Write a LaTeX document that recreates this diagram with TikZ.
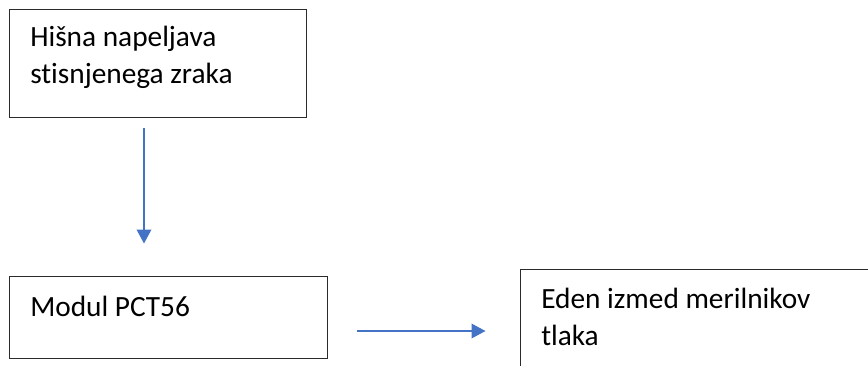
\documentclass[tikz,border=0pt]{standalone}
\usepackage{fontspec}
\setmainfont[Ligatures=NoCommon]{Carlito}
\usetikzlibrary{arrows.meta}
\definecolor{flowblue}{HTML}{4472C4}
\definecolor{boxline}{HTML}{2B2B2B}
\begin{document}
\begin{tikzpicture}[x=0.75pt,y=-0.75pt,
  box/.style={draw=boxline,line width=0.9pt,rectangle,inner sep=0pt,anchor=north west},
  lbl/.style={anchor=base west,inner sep=0pt,font=\fontsize{22pt}{27.5pt}\selectfont},
  flow/.style={draw=flowblue,line width=1.1pt,-{Triangle[length=10.5pt,width=11pt]}}]
  \clip (0,0) rectangle (868,365);
  % boxes
  \node[box,minimum width=222.75pt,minimum height=81pt] (house) at (9,9) {};
  \node[box,minimum width=238.5pt,minimum height=61.5pt] (module) at (9,276) {};
  \node[box,minimum width=285pt,minimum height=90pt] (gauge) at (520,269) {};
  % texts
  \node[lbl] (t1) at (30,46.7) {Hišna napeljava};
  \node[lbl] (t2) at (30,83.5) {stisnjenega zraka};
  \node[lbl] (t3) at (30,316) {Modul PCT56};
  \node[lbl] (t4) at (541,308.3) {Eden izmed merilnikov};
  \node[lbl] (t5) at (541,345.5) {tlaka};
  % connectors
  \coordinate (a1s) at (144,128);
  \coordinate (a1e) at (144,243.5);
  \coordinate (a2s) at (357,331);
  \coordinate (a2e) at (485.5,331);
  \draw[flow] (a1s) -- (a1e);
  \draw[flow] (a2s) -- (a2e);
\end{tikzpicture}
\end{document}
